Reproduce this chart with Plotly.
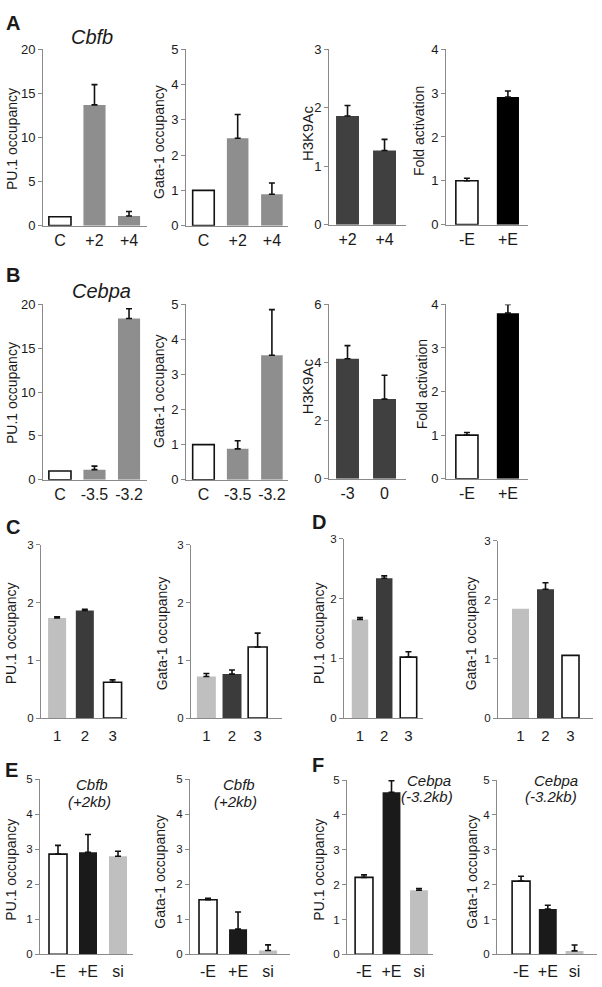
import plotly.graph_objects as go

W, H = 602, 987

# ---------------- data ----------------
A_sites = ["C", "+2", "+4"]
A_pu1 = [1.0, 13.7, 1.1]
A_pu1_err = [0, 2.3, 0.5]
A_gata = [1.0, 2.48, 0.89]
A_gata_err = [0, 0.67, 0.32]
A_h3_sites = ["+2", "+4"]
A_h3 = [1.86, 1.27]
A_h3_err = [0.18, 0.19]
fold_cats = ["-E", "+E"]
A_fold = [1.0, 2.91]
A_fold_err = [0.06, 0.14]

B_sites = ["C", "-3.5", "-3.2"]
B_pu1 = [1.0, 1.15, 18.4]
B_pu1_err = [0, 0.4, 1.1]
B_gata = [1.0, 0.88, 3.55]
B_gata_err = [0, 0.23, 1.3]
B_h3_sites = ["-3", "0"]
B_h3 = [4.13, 2.74]
B_h3_err = [0.45, 0.82]
B_fold = [1.0, 3.80]
B_fold_err = [0.06, 0.2]

CD_cats = ["1", "2", "3"]
C_pu1 = [1.73, 1.86, 0.62]
C_pu1_err = [0.02, 0.02, 0.04]
C_gata = [0.72, 0.76, 1.23]
C_gata_err = [0.05, 0.07, 0.24]
D_pu1 = [1.65, 2.34, 1.02]
D_pu1_err = [0.03, 0.04, 0.09]
D_gata = [1.85, 2.18, 1.06]
D_gata_err = [0, 0.11, 0]

EF_cats = ["-E", "+E", "si"]
E_pu1 = [2.86, 2.91, 2.80]
E_pu1_err = [0.25, 0.51, 0.14]
E_gata = [1.56, 0.72, 0.11]
E_gata_err = [0.04, 0.49, 0.16]
F_pu1 = [2.21, 4.65, 1.84]
F_pu1_err = [0.07, 0.33, 0.05]
F_gata = [2.10, 1.30, 0.10]
F_gata_err = [0.14, 0.11, 0.17]

# ---------------- styles ----------------
WHITE, MID, DARK, BLACK, LIGHT, DARK2, BLK2 = "#ffffff", "#8e8e8e", "#404040", "#000000", "#bfbfbf", "#3b3b3b", "#1a1a1a"
FONT = "Liberation Sans, Arial, sans-serif"
AXC = "#8a8a8a"
TXT = "#1a1a1a"

panels = [
    # cats, vals, errs, colors, (x0,x1,ytop,ybot), ymax, dtick, xrange, width, yfs, xfs, standoff
    (A_sites, A_pu1, A_pu1_err, [WHITE, MID, MID], (43, 147, 43, 222), 20, 5, [-0.49, 2.52], 0.64, 13, 16, 0),
    (A_sites, A_gata, A_gata_err, [WHITE, MID, MID], (186, 288, 43, 222), 5, 1, [-0.51, 2.47], 0.63, 13, 16, 0),
    (A_h3_sites, A_h3, A_h3_err, [DARK, DARK], (329, 406, 43, 221), 3, 1, [-0.5, 1.58], 0.62, 13, 16, 0),
    (fold_cats, A_fold, A_fold_err, [WHITE, BLACK], (446, 528, 43, 221), 4, 1, [-0.51, 1.49], 0.54, 13, 16, 0),
    (B_sites, B_pu1, B_pu1_err, [WHITE, MID, MID], (43, 147, 302, 480), 20, 5, [-0.49, 2.52], 0.64, 13, 16, 0),
    (B_sites, B_gata, B_gata_err, [WHITE, MID, MID], (186, 288, 302, 480), 5, 1, [-0.51, 2.47], 0.63, 13, 16, 0),
    (B_h3_sites, B_h3, B_h3_err, [DARK, DARK], (329, 406, 302, 479), 6, 2, [-0.5, 1.58], 0.62, 13, 16, 0),
    (fold_cats, B_fold, B_fold_err, [WHITE, BLACK], (446, 528, 302, 479), 4, 1, [-0.51, 1.49], 0.54, 13, 16, 0),
    (CD_cats, C_pu1, C_pu1_err, [LIGHT, DARK2, WHITE], (41, 127, 546, 722), 3, 1, [-0.58, 2.52], 0.65, 11.5, 15, 4),
    (CD_cats, C_gata, C_gata_err, [LIGHT, DARK2, WHITE], (191, 282, 546, 722), 3, 1, [-0.6, 2.95], 0.74, 11.5, 15, 4),
    (CD_cats, D_pu1, D_pu1_err, [LIGHT, DARK2, WHITE], (344, 423, 540, 722), 3, 1, [-0.66, 2.6], 0.68, 11.5, 15, 4),
    (CD_cats, D_gata, D_gata_err, [LIGHT, DARK2, WHITE], (498, 593, 542, 722), 3, 1, [-0.9, 2.9], 0.68, 11.5, 15, 4),
    (EF_cats, E_pu1, E_pu1_err, [WHITE, BLK2, LIGHT], (40, 133, 784, 962), 5, 1, [-0.6, 2.5], 0.6, 11.5, 16, 2),
    (EF_cats, E_gata, E_gata_err, [WHITE, BLK2, LIGHT], (190, 290, 784, 962), 5, 1, [-0.6, 2.73], 0.6, 11.5, 16, 2),
    (EF_cats, F_pu1, F_pu1_err, [WHITE, BLK2, LIGHT], (347, 433, 785, 962), 5, 1, [-0.62, 2.51], 0.65, 11.5, 16, 2),
    (EF_cats, F_gata, F_gata_err, [WHITE, BLK2, LIGHT], (497, 597, 785, 962), 5, 1, [-0.9, 2.84], 0.67, 11.5, 16, 2),
]

fig = go.Figure()
layout = dict(
    width=W, height=H, autosize=False,
    margin=dict(l=0, r=0, t=0, b=0),
    paper_bgcolor="white", plot_bgcolor="white",
    showlegend=False, barmode="overlay",
    font=dict(family=FONT, color=TXT),
)

for i, (cats, vals, errs, cols, box, ymax, dtick, xr, bw, yfs, xfs, so) in enumerate(panels):
    n = i + 1
    xa = "x" if n == 1 else f"x{n}"
    ya = "y" if n == 1 else f"y{n}"
    for c, v, e, col in zip(cats, vals, errs, cols):
        fig.add_trace(go.Bar(
            x=[c], y=[v], xaxis=xa, yaxis=ya, width=bw,
            marker=dict(color=col,
                        line=dict(color="#111111" if col == WHITE else col, width=1.6 if col == WHITE else 0)),
            error_y=dict(type="data", symmetric=False, array=[e], arrayminus=[0],
                         visible=e > 0, color="#111111", thickness=1.6, width=3),
        ))
    x0, x1, yt, yb = box
    layout["xaxis" if n == 1 else f"xaxis{n}"] = dict(
        domain=[x0 / W, x1 / W], anchor=ya, type="category",
        categoryorder="array", categoryarray=cats, range=xr,
        showline=True, linecolor=AXC, linewidth=1, ticks="", showgrid=False,
        zeroline=False, fixedrange=True, ticklabelstandoff=so,
        tickfont=dict(size=xfs, color=TXT, family=FONT),
    )
    layout["yaxis" if n == 1 else f"yaxis{n}"] = dict(
        domain=[1 - yb / H, 1 - yt / H], anchor=xa, range=[0, ymax],
        tick0=0, dtick=dtick, showline=True, linecolor=AXC, linewidth=1,
        ticks="outside", ticklen=4, tickcolor=AXC, showgrid=False,
        zeroline=False, fixedrange=True,
        tickfont=dict(size=yfs, color=TXT, family=FONT),
    )

annotations = []


def txt(x, y, s, size, angle=0, bold=False, italic=False):
    if bold:
        s = f"<b>{s}</b>"
    if italic:
        s = f"<i>{s}</i>"
    annotations.append(dict(x=x / W, y=1 - y / H, xref="paper", yref="paper", text=s,
                            showarrow=False, textangle=angle, xanchor="center", yanchor="middle",
                            font=dict(size=size, family=FONT, color=TXT)))


# panel letters
for letter, x, y in [("A", 13, 16), ("B", 13, 272), ("C", 13, 528), ("D", 319, 523), ("E", 11, 775), ("F", 318, 770)]:
    txt(x, y, letter, 20, bold=True)

# gene titles
txt(92, 30, "Cbfb", 20, italic=True)
txt(101, 288, "Cebpa", 20, italic=True)
txt(92, 789, "Cbfb", 15, italic=True)
txt(89, 807, "(+2kb)", 15, italic=True)
txt(239, 789, "Cbfb", 15, italic=True)
txt(235, 807, "(+2kb)", 15, italic=True)
txt(429, 785, "Cebpa", 15, italic=True)
txt(427, 802, "(-3.2kb)", 15, italic=True)
txt(556, 785, "Cebpa", 15, italic=True)
txt(551, 802, "(-3.2kb)", 15, italic=True)

# y-axis titles
for x, y, s, fs in [
    (12, 134, "PU.1 occupancy", 14), (159, 137, "Gata-1 occupancy", 14), (307, 128, "H3K9Ac", 15), (419, 126, "Fold activation", 14),
    (12, 392, "PU.1 occupancy", 14), (159, 390, "Gata-1 occupancy", 14), (307, 385, "H3K9Ac", 15), (422, 383, "Fold activation", 14),
    (11, 636, "PU.1 occupancy", 14), (162, 636, "Gata-1 occupancy", 14), (319, 636, "PU.1 occupancy", 14), (471, 636, "Gata-1 occupancy", 14),
    (11, 876, "PU.1 occupancy", 14), (160, 878, "Gata-1 occupancy", 14), (319, 876, "PU.1 occupancy", 14), (472, 878, "Gata-1 occupancy", 14),
]:
    txt(x, y, s, fs, angle=-90)

layout["annotations"] = annotations
fig.update_layout(**layout)
fig.write_html(
    "out.html",
    config={"displayModeBar": False, "staticPlot": True},
    post_script="document.body.style.margin='0px';document.body.style.padding='0px';document.body.style.overflow='hidden';",
)
